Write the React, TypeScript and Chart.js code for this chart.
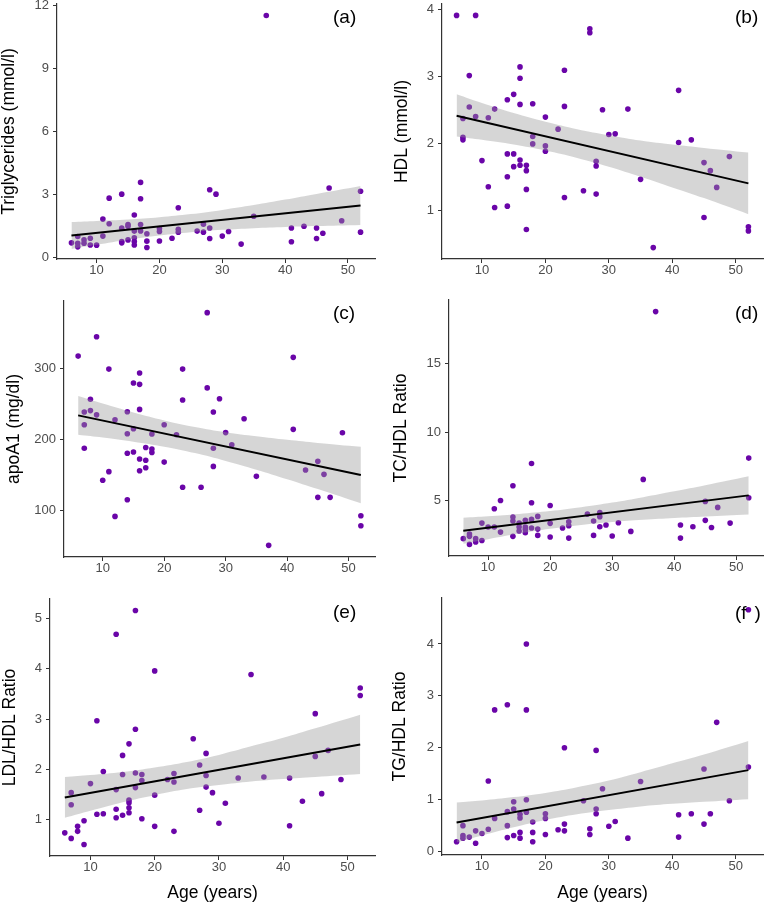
import React, { useEffect, useRef } from "react";
import { Chart, registerables } from "chart.js";
Chart.register(...registerables);

const FONT = "'Liberation Sans', Arial, Helvetica, sans-serif";

// shared x values
const xTicks = [10, 20, 30, 40, 50];
const fitAges = [6, 10, 15, 20, 25, 30, 35, 40, 45, 52];
const lineEnds = [6, 52];
const xTitleText = "Age (years)";

// (a) Triglycerides
const agesA = [6, 7, 7, 7, 8, 8, 9, 9, 10, 11, 11, 12, 12, 14, 14, 14, 14, 15, 15, 15, 16, 16, 16, 16, 16, 17, 17, 17, 17, 18, 18, 18, 20, 20, 20, 22, 23, 23, 23, 26, 27, 27, 28, 28, 28, 29, 30, 31, 33, 35, 37, 41, 41, 43, 45, 45, 46, 47, 49, 52, 52];
const tgValues = [0.70, 1.00, 0.68, 0.51, 0.84, 0.68, 0.92, 0.60, 0.59, 1.83, 1.02, 2.83, 1.61, 3.02, 1.40, 0.76, 0.70, 1.57, 1.49, 0.84, 2.03, 1.26, 0.94, 0.76, 0.60, 3.58, 2.80, 1.57, 1.27, 1.13, 0.78, 0.48, 1.38, 1.24, 0.79, 0.92, 2.37, 1.35, 1.21, 1.26, 1.59, 1.21, 3.23, 1.41, 0.91, 3.02, 1.02, 1.24, 0.64, 1.97, 11.53, 1.41, 0.75, 1.49, 1.41, 0.91, 1.16, 3.31, 1.75, 3.16, 1.21];
const tgFit = [1.05, 2.48];
const tgLower = [0.41, 0.61, 0.85, 1.05, 1.21, 1.32, 1.40, 1.46, 1.50, 1.55];
const tgUpper = [1.69, 1.74, 1.81, 1.92, 2.07, 2.27, 2.50, 2.76, 3.03, 3.41];
const tgTicks = [0, 3, 6, 9, 12];

// (b) HDL
const agesB = agesA;
const hdlValues = [3.91, 2.37, 2.09, 2.05, 3.01, 2.54, 3.91, 2.40, 1.74, 2.38, 1.35, 2.51, 1.04, 2.65, 1.84, 1.50, 1.06, 2.73, 1.84, 1.65, 3.14, 2.97, 2.58, 1.75, 1.67, 1.67, 1.59, 1.31, 0.71, 2.59, 2.10, 1.99, 2.39, 1.96, 1.88, 2.21, 3.09, 2.55, 1.19, 1.29, 3.71, 3.65, 1.73, 1.66, 1.24, 2.50, 2.13, 2.14, 2.51, 1.46, 0.44, 2.79, 2.01, 2.05, 1.71, 0.89, 1.59, 1.34, 1.80, 0.75, 0.69];
const hdlFit = [2.41, 1.40];
const hdlLower = [2.10, 2.05, 1.98, 1.89, 1.78, 1.65, 1.50, 1.34, 1.18, 0.94];
const hdlUpper = [2.73, 2.60, 2.45, 2.32, 2.21, 2.12, 2.04, 1.98, 1.93, 1.86];
const hdlTicks = [1, 2, 3, 4];

// (c) apoA1
const agesC = [6, 7, 7, 7, 8, 8, 9, 9, 10, 11, 11, 12, 12, 14, 14, 14, 14, 15, 15, 15, 16, 16, 16, 16, 16, 17, 17, 17, 18, 18, 18, 20, 20, 22, 23, 23, 23, 26, 27, 27, 28, 28, 28, 29, 30, 31, 33, 35, 37, 41, 41, 43, 45, 45, 46, 47, 49, 52, 52];
const apoValues = [317.8, 239, 221, 188, 257, 241, 345, 235, 143, 299.5, 155, 228, 92, 239.4, 208.5, 181, 115.5, 280, 215.5, 182.6, 294, 278, 242.7, 172.8, 156.3, 189, 171, 160.6, 208, 187, 182, 221, 168.5, 207, 299.5, 256, 133, 133, 379, 273, 239, 188, 162.4, 257.7, 210, 193, 229.6, 148.4, 51.2, 316, 214.6, 157.3, 169.5, 118.8, 151.2, 118.8, 209.9, 93, 78.9];
const apoFit = [234.3, 150.2];
const apoLower = [207.0, 203.1, 197.3, 190.2, 181.2, 170.2, 157.8, 144.4, 130.5, 110.4];
const apoUpper = [261.6, 250.9, 238.3, 227.2, 218.0, 210.6, 204.8, 199.8, 195.5, 190.0];
const apoTicks = [100, 200, 300];

// (d) TC/HDL
const agesD = [6, 7, 7, 7, 8, 8, 9, 9, 10, 11, 11, 12, 12, 14, 14, 14, 14, 15, 15, 15, 16, 16, 16, 16, 17, 17, 17, 17, 18, 18, 18, 20, 20, 20, 22, 23, 23, 23, 26, 27, 27, 28, 28, 28, 29, 30, 31, 33, 35, 37, 41, 41, 43, 45, 45, 46, 47, 49, 52, 52];
const tcValues = [2.20, 2.54, 2.37, 1.78, 2.20, 1.95, 3.34, 2.07, 3.05, 4.39, 3.05, 5.00, 2.68, 6.07, 3.78, 3.49, 2.37, 3.34, 3.05, 2.76, 3.54, 3.05, 2.88, 2.63, 7.71, 4.83, 3.61, 2.98, 3.83, 2.90, 2.44, 4.63, 3.32, 2.32, 2.98, 3.44, 3.15, 2.24, 4.00, 3.49, 2.44, 4.12, 3.80, 3.07, 3.20, 2.39, 3.37, 2.73, 6.54, 18.83, 3.20, 2.24, 3.07, 4.93, 3.54, 3.02, 4.49, 3.34, 8.10, 5.20];
const tcFit = [2.78, 5.37];
const tcLower = [1.82, 2.16, 2.57, 2.92, 3.20, 3.42, 3.59, 3.72, 3.83, 3.97];
const tcUpper = [3.74, 3.85, 4.01, 4.22, 4.50, 4.84, 5.24, 5.67, 6.12, 6.77];
const tcTicks = [5, 10, 15];

// (e) LDL/HDL
const agesE = agesA;
const ldlValues = [0.74, 1.54, 1.30, 0.63, 0.87, 0.77, 0.98, 0.51, 1.72, 2.97, 1.11, 1.96, 1.12, 4.69, 1.60, 1.21, 1.04, 2.28, 1.90, 1.09, 2.51, 1.39, 1.34, 1.24, 1.14, 5.16, 2.80, 1.93, 1.64, 1.90, 1.78, 1.02, 3.96, 1.49, 0.87, 1.80, 1.92, 1.75, 0.77, 2.61, 2.09, 1.19, 2.32, 1.88, 1.65, 1.54, 0.93, 1.33, 1.83, 3.89, 1.85, 1.83, 0.88, 1.37, 3.11, 2.26, 1.52, 2.38, 1.80, 3.62, 3.47];
const ldlFit = [1.445, 2.495];
const ldlLower = [1.04, 1.18, 1.35, 1.49, 1.61, 1.69, 1.76, 1.81, 1.85, 1.91];
const ldlUpper = [1.85, 1.89, 1.95, 2.04, 2.15, 2.29, 2.46, 2.63, 2.82, 3.09];
const ldlTicks = [1, 2, 3, 4, 5];

// (f) TG/HDL
const agesF = [6, 7, 7, 7, 8, 9, 9, 10, 11, 11, 12, 12, 14, 14, 14, 14, 15, 15, 15, 16, 16, 16, 16, 17, 17, 17, 17, 18, 18, 18, 20, 20, 20, 22, 23, 23, 23, 26, 27, 27, 28, 28, 28, 29, 30, 31, 33, 35, 41, 41, 43, 45, 45, 46, 47, 49, 52, 52];
const tghValues = [0.19, 0.50, 0.31, 0.26, 0.28, 0.40, 0.16, 0.35, 1.36, 0.43, 2.73, 0.64, 2.83, 0.77, 0.50, 0.27, 0.96, 0.82, 0.31, 0.72, 0.65, 0.37, 0.26, 4.00, 2.73, 1.00, 0.76, 0.57, 0.37, 0.19, 0.73, 0.64, 0.33, 0.42, 2.00, 0.53, 0.40, 0.98, 0.44, 0.33, 1.95, 0.82, 0.73, 1.21, 0.49, 0.58, 0.26, 1.35, 0.71, 0.28, 0.73, 1.59, 0.53, 0.73, 2.49, 0.98, 4.66, 1.63];
const tghFit = [0.56, 1.57];
const tghLower = [0.175, 0.31, 0.47, 0.61, 0.72, 0.80, 0.87, 0.92, 0.96, 1.01];
const tghUpper = [0.945, 0.985, 1.05, 1.13, 1.24, 1.37, 1.53, 1.70, 1.87, 2.13];
const tghTicks = [0, 1, 2, 3, 4];

type PanelDef = {
  label: string;
  labelGap: number;
  yTitle: string;
  xTitle: string;
  ages: number[];
  values: number[];
  fit: number[];
  lower: number[];
  upper: number[];
  yTicks: number[];
  yMin: number;
  yMax: number;
  // layout
  left: number; top: number; width: number; height: number;
  yw: number; xh: number; padT: number; padR: number; yTitlePad: number;
  labelLeft: number; labelTop: number;
};

const panels: PanelDef[] = [
  { label: "(a", labelGap: 0, yTitle: "Triglycerides (mmol/l)", xTitle: "", ages: agesA, values: tgValues, fit: tgFit, lower: tgLower, upper: tgUpper, yTicks: tgTicks, yMin: -0.07, yMax: 12.08,
    left: 0, top: 0, width: 383, height: 290, yw: 57, xh: 31, padT: 4, padR: 8, yTitlePad: 0.4, labelLeft: 333, labelTop: 6.6 },
  { label: "(b", labelGap: 0, yTitle: "HDL (mmol/l)", xTitle: "", ages: agesB, values: hdlValues, fit: hdlFit, lower: hdlLower, upper: hdlUpper, yTicks: hdlTicks, yMin: 0.27, yMax: 4.08,
    left: 383, top: 0, width: 384, height: 290, yw: 59, xh: 31, padT: 4, padR: 1, yTitlePad: 10.4, labelLeft: 735, labelTop: 6.6 },
  { label: "(c", labelGap: 0, yTitle: "apoA1 (mg/dl)", xTitle: "", ages: agesC, values: apoValues, fit: apoFit, lower: apoLower, upper: apoUpper, yTicks: apoTicks, yMin: 34.8, yMax: 395.4,
    left: 0, top: 290, width: 383, height: 300, yw: 64, xh: 33, padT: 11, padR: 8, yTitlePad: 5, labelLeft: 333, labelTop: 302.6 },
  { label: "(d", labelGap: 0, yTitle: "TC/HDL Ratio", xTitle: "", ages: agesD, values: tcValues, fit: tcFit, lower: tcLower, upper: tcUpper, yTicks: tcTicks, yMin: 0.93, yMax: 19.68,
    left: 383, top: 290, width: 384, height: 300, yw: 66, xh: 34, padT: 10, padR: 1, yTitlePad: 9.1, labelLeft: 735, labelTop: 302.6 },
  { label: "(e", labelGap: 0, yTitle: "LDL/HDL Ratio", xTitle: xTitleText, ages: agesE, values: ldlValues, fit: ldlFit, lower: ldlLower, upper: ldlUpper, yTicks: ldlTicks, yMin: 0.28, yMax: 5.39,
    left: 0, top: 590, width: 383, height: 320, yw: 50, xh: 54, padT: 9, padR: 8, yTitlePad: 1.3, labelLeft: 333, labelTop: 602.4 },
  { label: "(f", labelGap: 8, yTitle: "TG/HDL Ratio", xTitle: xTitleText, ages: agesF, values: tghValues, fit: tghFit, lower: tghLower, upper: tghUpper, yTicks: tghTicks, yMin: -0.065, yMax: 4.885,
    left: 383, top: 590, width: 384, height: 320, yw: 59, xh: 55, padT: 8, padR: 1, yTitlePad: 8.25, labelLeft: 735, labelTop: 603 },
];

function Panel({ p }: { p: PanelDef }) {
  const ref = useRef<HTMLCanvasElement | null>(null);
  useEffect(() => {
    if (!ref.current) return;
    const pts = p.ages.map((a, i) => ({ x: a, y: p.values[i] }));
    const fitPts = lineEnds.map((a, i) => ({ x: a, y: p.fit[i] }));
    const lowPts = fitAges.map((a, i) => ({ x: a, y: p.lower[i] }));
    const upPts = fitAges.map((a, i) => ({ x: a, y: p.upper[i] }));
    const chart = new Chart(ref.current, {
      type: "scatter",
      data: {
        datasets: [
          { type: "line", data: fitPts, borderColor: "#000000", borderWidth: 2, pointRadius: 0, fill: false, order: 0 } as any,
          { type: "line", data: lowPts, borderColor: "rgba(0,0,0,0)", borderWidth: 0, pointRadius: 0, fill: false, tension: 0.4, order: 1 } as any,
          { type: "line", data: upPts, borderColor: "rgba(0,0,0,0)", borderWidth: 0, pointRadius: 0, fill: "-1", backgroundColor: "rgba(153,153,153,0.4)", tension: 0.4, order: 1 } as any,
          { type: "scatter", data: pts, pointRadius: 2.8, pointBackgroundColor: "#6a05a8", backgroundColor: "#6a05a8", pointBorderWidth: 0, borderWidth: 0, order: 2 } as any,
        ],
      },
      options: {
        animation: false,
        responsive: false,
        maintainAspectRatio: false,
        devicePixelRatio: 1,
        layout: { padding: { left: 0, right: p.padR, top: p.padT, bottom: 0 } },
        plugins: { legend: { display: false }, tooltip: { enabled: false } },
        scales: {
          x: {
            type: "linear",
            min: 3.7,
            max: 54.3,
            afterBuildTicks: (s: any) => { s.ticks = xTicks.map((v) => ({ value: v })); },
            afterFit: (s: any) => { s.height = p.xh; s.paddingLeft = 0; s.paddingRight = 0; },
            grid: { drawOnChartArea: false, drawTicks: true, tickLength: 4, color: "#333333" },
            border: { display: true, color: "#333333", width: 1.2 },
            ticks: { color: "#4d4d4d", font: { family: FONT, size: 13 }, padding: 0, maxRotation: 0, autoSkip: false },
            title: { display: !!p.xTitle, text: p.xTitle, color: "#000000", font: { family: FONT, size: 17.5, lineHeight: 1 }, padding: { top: 0, bottom: 8.25 } },
          },
          y: {
            type: "linear",
            min: p.yMin,
            max: p.yMax,
            afterBuildTicks: (s: any) => { s.ticks = p.yTicks.map((v) => ({ value: v })); },
            afterFit: (s: any) => { s.width = p.yw; s.paddingTop = 0; s.paddingBottom = 0; },
            grid: { drawOnChartArea: false, drawTicks: true, tickLength: 4, color: "#333333" },
            border: { display: true, color: "#333333", width: 1.2 },
            ticks: { color: "#4d4d4d", font: { family: FONT, size: 13 }, padding: 4 },
            title: { display: true, text: p.yTitle, color: "#000000", font: { family: FONT, size: 17.5, lineHeight: 1 }, padding: { top: p.yTitlePad, bottom: 0 } },
          },
        },
      } as any,
    });
    return () => chart.destroy();
  }, [p]);
  return (
    <canvas
      ref={ref}
      width={p.width}
      height={p.height}
      style={{ position: "absolute", left: p.left, top: p.top, width: p.width, height: p.height }}
    />
  );
}

export default function App() {
  return (
    <div style={{ position: "absolute", left: 0, top: 0, width: 767, height: 910, background: "#ffffff", overflow: "hidden" }}>
      {panels.map((p) => (
        <Panel key={p.label} p={p} />
      ))}
      {panels.map((p) => (
        <div
          key={"lbl" + p.label}
          style={{ position: "absolute", left: p.labelLeft, top: p.labelTop, fontFamily: FONT, fontSize: 19, lineHeight: 1, color: "#000000", whiteSpace: "nowrap" }}
        >
          {p.label}
          <span style={{ marginLeft: p.labelGap }}>)</span>
        </div>
      ))}
    </div>
  );
}
